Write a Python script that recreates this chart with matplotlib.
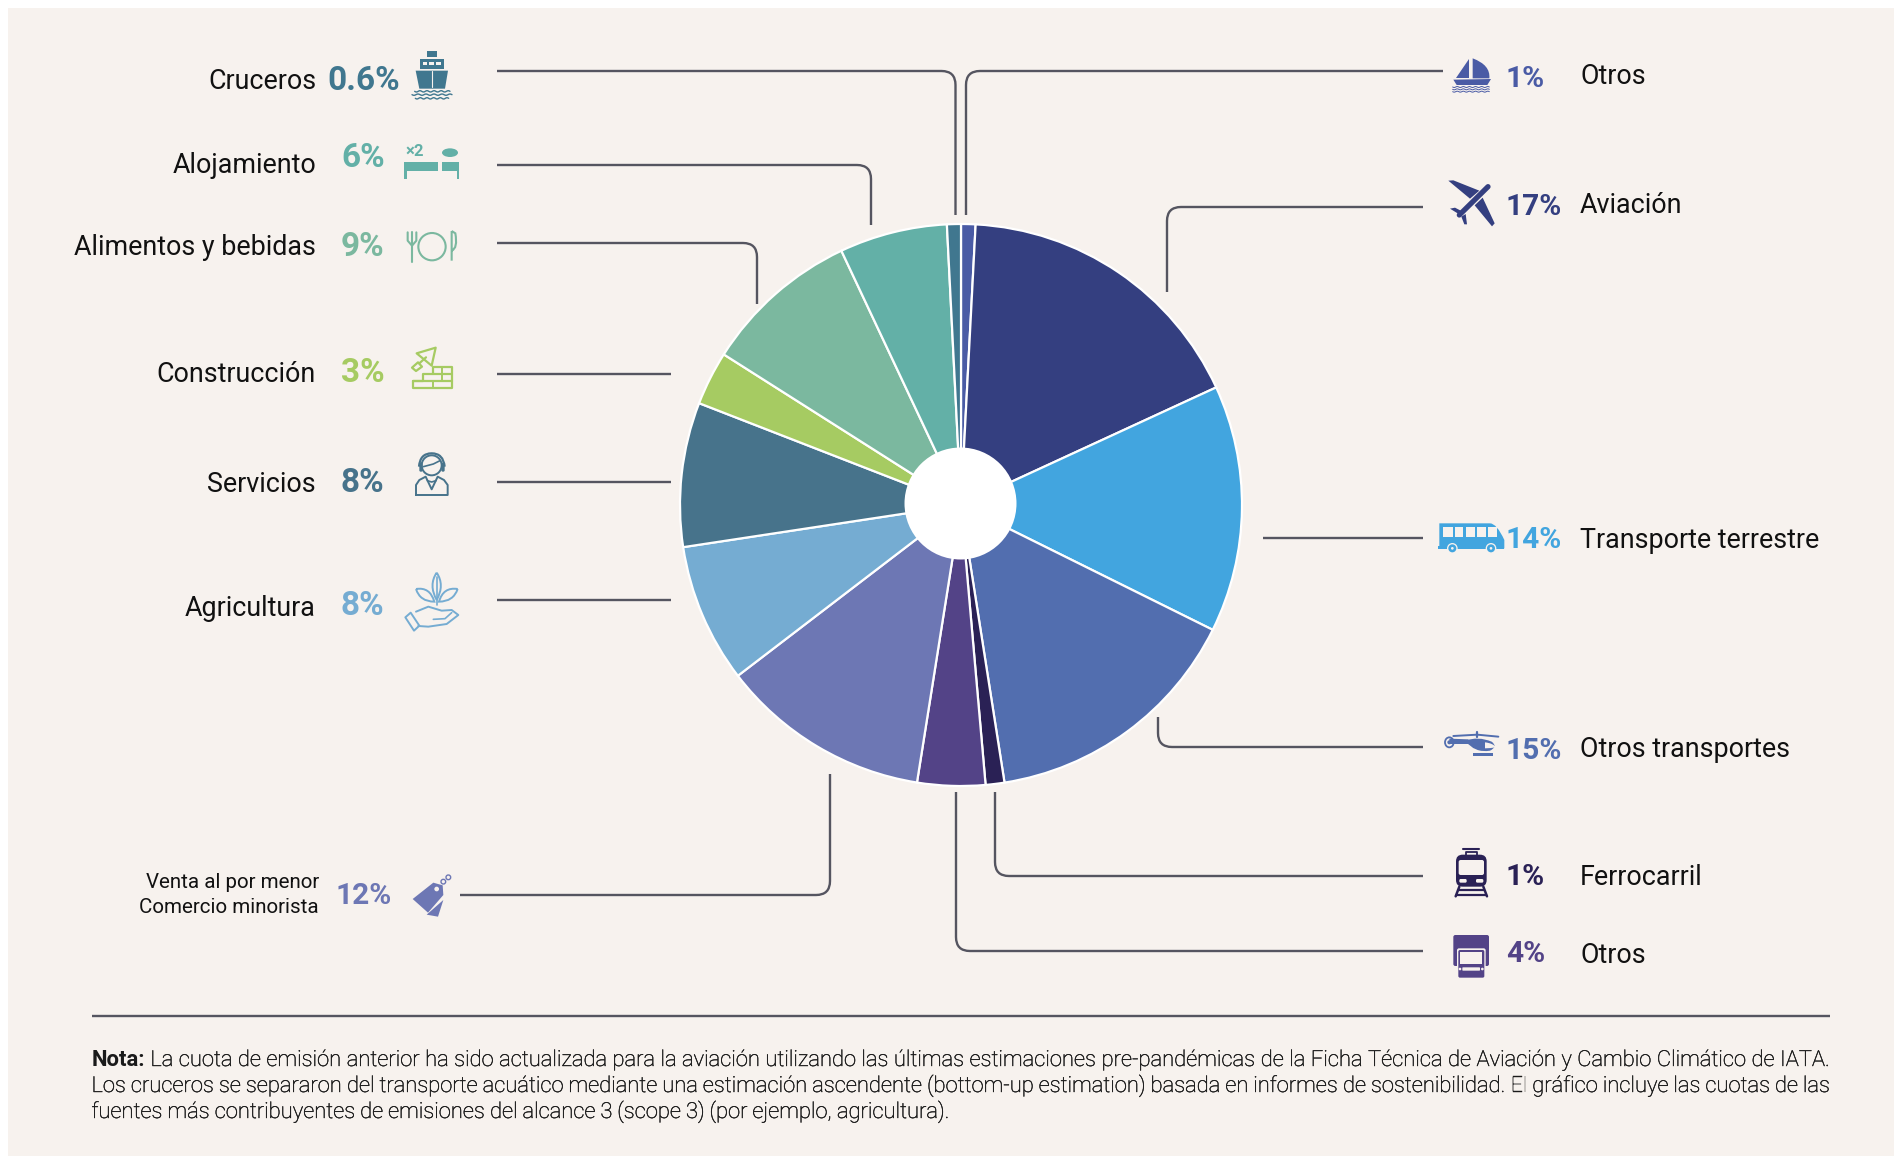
import numpy as np
import matplotlib
matplotlib.use("Agg")
import matplotlib.pyplot as plt
import matplotlib.patheffects as pe
from matplotlib.patches import Circle, Ellipse, Polygon, Rectangle, FancyBboxPatch, PathPatch
from matplotlib.path import Path

W, H = 1894, 1156
categories = ["Otros (marítimo)", "Aviación", "Transporte terrestre", "Otros transportes", "Ferrocarril",
              "Otros (carretera)", "Venta al por menor", "Agricultura", "Servicios", "Construcción",
              "Alimentos y bebidas", "Alojamiento", "Cruceros"]
shares = [0.83, 17.3, 14.2, 15.2, 1.08, 3.9, 12.1, 8.0, 8.3, 3.1, 9.0, 6.2, 0.8]
colors = ["#4A5BA5", "#343F80", "#42A5DF", "#526EAF", "#2A2155", "#534387", "#6D77B4",
          "#75ACD2", "#47738B", "#A6CB62", "#7BB89F", "#63B0A7", "#40778F"]
BG = "#F7F2EE"
LINE = "#555560"

plt.rcParams['font.family'] = ['Roboto', 'DejaVu Sans']
fig = plt.figure(figsize=(W/100, H/100), dpi=100, facecolor="white")
ax = fig.add_axes([0, 0, 1, 1])
ax.set_xlim(0, W); ax.set_ylim(H, 0); ax.axis("off")
ax.add_patch(Rectangle((8, 8), W-8, H-8, fc=BG, ec="none", zorder=0))

# Pie
cx, cy, R, r0 = 961, 505, 281, 56
pax = fig.add_axes([(cx-R)/W, 1-(cy+R)/H, 2*R/W, 2*R/H])
pax.pie(shares, colors=colors, startangle=90, counterclock=False, radius=1,
        wedgeprops=dict(edgecolor="white", linewidth=1.6))
pax.set_xlim(-1, 1); pax.set_ylim(-1, 1); pax.set_aspect("equal"); pax.axis("off")
pax.patch.set_alpha(0)
pax.add_patch(Circle((-0.5/R, 1.5/R), r0/R, fc="white", ec="none", zorder=10))

# Leader lines
def leader(pts, rad=14):
    pts = [np.array(p, float) for p in pts]
    verts = [pts[0]]; codes = [Path.MOVETO]
    for i in range(1, len(pts)-1):
        a, b, c = pts[i-1], pts[i], pts[i+1]
        u = (a-b)/np.linalg.norm(a-b); v = (c-b)/np.linalg.norm(c-b)
        verts += [b+u*rad, b, b+v*rad]; codes += [Path.LINETO, Path.CURVE3, Path.CURVE3]
    verts.append(pts[-1]); codes.append(Path.LINETO)
    ax.add_patch(PathPatch(Path(verts, codes), fc="none", ec=LINE, lw=1.7, zorder=1))

leaders = [
    [(497, 71), (955.5, 71), (955.5, 215)],
    [(1443, 71), (966, 71), (966, 215)],
    [(497, 165), (871, 165), (871, 225)],
    [(497, 243), (757, 243), (757, 304)],
    [(497, 374), (671, 374)],
    [(497, 482), (671, 482)],
    [(497, 600), (671, 600)],
    [(460, 895), (830, 895), (830, 774)],
    [(1423, 951), (956, 951), (956, 792)],
    [(1423, 876), (995, 876), (995, 792)],
    [(1423, 747), (1158, 747), (1158, 717)],
    [(1423, 538), (1263, 538)],
    [(1423, 207), (1167, 207), (1167, 292)],
]
for l in leaders:
    leader(l)

# Text
TXT = "#111111"
labels = [
    ("Cruceros", 316, 89, "right"), ("Alojamiento", 316, 173, "right"),
    ("Alimentos y bebidas", 316, 255, "right"), ("Construcción", 316, 382, "right"),
    ("Servicios", 316, 492, "right"), ("Agricultura", 316, 616, "right"),
    ("Otros", 1580, 84, "left"), ("Aviación", 1580, 213, "left"),
    ("Transporte terrestre", 1580, 548, "left"), ("Otros transportes", 1580, 757, "left"),
    ("Ferrocarril", 1580, 885, "left"), ("Otros", 1580, 963, "left"),
]
for t, x, y, ha in labels:
    ax.text(x, y, t, fontsize=19.4, color=TXT, ha=ha, va="baseline", zorder=5)
ax.text(319, 888, "Venta al por menor", fontsize=14.8, color=TXT, ha="right", va="baseline")
ax.text(319, 913, "Comercio minorista", fontsize=14.8, color=TXT, ha="right", va="baseline")

pct = [
    ("0.6%", 327, 90, "#40778F", 24), ("6%", 341, 167, "#63B0A7", 24), ("9%", 341, 256, "#7BB89F", 24),
    ("3%", 341, 382, "#A6CB62", 24), ("8%", 341, 492, "#47738B", 24), ("8%", 341, 615, "#75ACD2", 24),
    ("12%", 335, 904, "#6D77B4", 21.5), ("1%", 1506, 87, "#4A5BA5", 21.5), ("17%", 1506, 215, "#343F80", 21.5),
    ("14%", 1506, 548, "#42A5DF", 21.5), ("15%", 1506, 759, "#526EAF", 21.5), ("1%", 1506, 885, "#2A2155", 21.5),
    ("4%", 1506, 962, "#534387", 21.5),
]
for t, x, y, c, fs in pct:
    ax.text(x, y, t, fontsize=fs, color=c, fontweight="bold", ha="left", va="baseline", zorder=5)

# Rule and note
ax.plot([92, 1830], [1016, 1016], color=LINE, lw=1.7, solid_capstyle="butt")
note = [
    "Nota: La cuota de emisión anterior ha sido actualizada para la aviación utilizando las últimas estimaciones pre-pandémicas de la Ficha Técnica de Aviación y Cambio Climático de IATA.",
    "Los cruceros se separaron del transporte acuático mediante una estimación ascendente (bottom-up estimation) basada en informes de sostenibilidad. El gráfico incluye las cuotas de las",
    "fuentes más contribuyentes de emisiones del alcance 3 (scope 3) (por ejemplo, agricultura).",
]
fig.canvas.draw()
rend = fig.canvas.get_renderer()
stroke = [pe.withStroke(linewidth=0.3, foreground="#1a1a1a")]
def justified(line, y, x0=91.5, x1=1830, justify=True, fs=15.8):
    words = line.split(" ")
    arts = []
    for i, w in enumerate(words):
        bold = i == 0 and w == "Nota:"
        a = ax.text(0, y, w, fontsize=fs, color="#1a1a1a", va="baseline", ha="left",
                    fontweight="bold" if bold else "light")
        if not bold:
            a.set_path_effects(stroke)
        arts.append(a)
    ws = [a.get_window_extent(rend).width for a in arts]
    sp = (x1-x0-sum(ws))/(len(words)-1) if justify else fs*100/72*0.22
    x = x0
    for a, w in zip(arts, ws):
        a.set_x(x); x += w+sp
justified(note[0], 1066)
justified(note[1], 1092)
justified(note[2], 1118, justify=False)

# Icon helpers: coordinates are in zoomed-crop pixels
def mp(pts, o):
    return [(o[0]+x/3, o[1]+y/3) for x, y in pts]
def poly(pts, o, c, fill=True, lw=1.4, z=6, closed=True):
    ax.add_patch(Polygon(mp(pts, o), closed=closed, fc=c if fill else "none", ec=c if not fill else "none", lw=lw, zorder=z, joinstyle="round"))
def rect(x0, y0, x1, y1, o, c, fill=True, lw=1.4, z=6):
    poly([(x0, y0), (x1, y0), (x1, y1), (x0, y1)], o, c, fill, lw, z)
def line(pts, o, c, lw=1.4, z=6):
    m = np.array(mp(pts, o))
    ax.plot(m[:, 0], m[:, 1], color=c, lw=lw, zorder=z, solid_capstyle="round")
def circ(x, y, r, o, c, fill=True, lw=1.4, z=6):
    p = mp([(x, y)], o)[0]
    ax.add_patch(Circle(p, r/3, fc=c if fill else "none", ec=c if not fill else "none", lw=lw, zorder=z))
def ell(x, y, w, h, o, c, fill=True, lw=1.4, z=6, ang=0):
    p = mp([(x, y)], o)[0]
    ax.add_patch(Ellipse(p, w/3, h/3, angle=ang, fc=c if fill else "none", ec=c if not fill else "none", lw=lw, zorder=z))
def rrect(x0, y0, x1, y1, rad, o, c, fill=True, lw=1.4, z=6):
    p = mp([(x0, y0), (x1, y1)], o)
    ax.add_patch(FancyBboxPatch(p[0], p[1][0]-p[0][0], p[1][1]-p[0][1], boxstyle=f"round,pad=0,rounding_size={rad/3}",
                                fc=c if fill else "none", ec=c if not fill else "none", lw=lw, zorder=z))
def wave(x0, x1, y, o, c, amp=3, n=5, lw=1.0):
    xs = np.linspace(x0, x1, n*8+1)
    ys = y+amp*np.sin((xs-x0)/(x1-x0)*n*2*np.pi)
    line(list(zip(xs, ys)), o, c, lw)
def curve(pts, codes, o, c, fill=False, lw=1.4, z=6):
    ax.add_patch(PathPatch(Path(mp(pts, o), codes), fc=c if fill else "none", ec="none" if fill else c, lw=lw, zorder=z))
M, L3, C3 = Path.MOVETO, Path.LINETO, Path.CURVE3

# Ship
o = (0, 0); c = "#40778F"
rect(1281, 153, 1311, 170, o, c)
rect(1260, 178, 1332, 208, o, c)
for x in (1268, 1288, 1308):
    rect(x, 186, x+14, 196, o, BG, z=7)
poly([(1247, 212), (1344, 212), (1335, 266), (1258, 266)], o, c)
line([(1296, 212), (1296, 262)], o, BG, 0.8, 7)
wave(1244, 1350, 274, o, c, 2); wave(1236, 1356, 284, o, c, 2); wave(1246, 1346, 295, o, c, 2)

# Bed
c = "#63B0A7"
ax.text(414.5, 151, "×2", fontsize=12, fontweight="bold", color=c, ha="center", va="center", zorder=6)
ell(1350, 458, 48, 26, o, c)
rect(1213, 485, 1315, 512, o, c); rect(1213, 512, 1221, 537, o, c)
rect(1325, 485, 1378, 512, o, c); rect(1370, 512, 1378, 537, o, c)

# Plate
c = "#7BB89F"
circ(1296, 740, 41, o, c, False, 1.5)
line([(1236, 735), (1236, 785)], o, c, 1.5)
line([(1223, 697), (1223, 722), (1236, 737), (1249, 722), (1249, 697)], o, c, 1.5)
line([(1236, 697), (1236, 735)], o, c, 1.5)
curve([(1355, 693), (1355, 782), (1355, 752), (1374, 745), (1366, 700), (1355, 693)],
      [M, L3, M, C3, C3, L3], o, c, False, 1.5)

# Trowel and bricks
c = "#A6CB62"
poly([(1307, 1043), (1250, 1060), (1295, 1097)], o, c, False, 1.6)
poly([(1236, 1103), (1254, 1087), (1266, 1100), (1248, 1113)], o, c, False, 1.6)
line([(1258, 1090), (1278, 1072)], o, c, 1.6)
line([(1300, 1122), (1300, 1100), (1356, 1100), (1356, 1165), (1240, 1165), (1240, 1143), (1268, 1143), (1268, 1122), (1356, 1122)], o, c, 1.6)
line([(1240, 1143), (1356, 1143)], o, c, 1.6)
line([(1326, 1100), (1326, 1122)], o, c, 1.4); line([(1298, 1143), (1298, 1165)], o, c, 1.4)
line([(1326, 1122), (1326, 1143)], o, c, 1.4)

# Agent
o = (100, 420); c = "#47738B"
circ(995, 136, 30, o, c, False, 1.4)
curve([(957, 140), (960, 100), (995, 100), (1030, 100), (1034, 140)], [M, C3, C3, C3, C3], o, c, False, 1.6)
rrect(958, 128, 968, 155, 4, o, c); rrect(1024, 128, 1034, 155, 4, o, c)
line([(970, 140), (1000, 132), (1020, 122)], o, c, 1.2)
line([(948, 225), (948, 195), (958, 180), (977, 170), (995, 208), (1013, 170), (1032, 180), (1043, 195), (1043, 225), (948, 225)], o, c, 1.4)
line([(982, 182), (995, 186), (1008, 182)], o, c, 1.2)

# Plant & hand
c = "#75ACD2"
curve([(1010, 458), (985, 495), (1010, 540), (1035, 495), (1010, 458)], [M, C3, C3, C3, C3], o, c, False, 1.4)
line([(1010, 470), (1010, 555)], o, c, 1.2)
curve([(948, 507), (990, 500), (1003, 545), (960, 545), (948, 507)], [M, C3, C3, C3, C3], o, c, False, 1.4)
curve([(1073, 507), (1030, 500), (1017, 545), (1060, 545), (1073, 507)], [M, C3, C3, C3, C3], o, c, False, 1.4)
line([(948, 575), (985, 560), (1025, 572), (1055, 570), (1075, 585), (1040, 612), (985, 620), (955, 618)], o, c, 1.4)
line([(1000, 598), (1035, 596), (1055, 578)], o, c, 1.2)
poly([(916, 592), (932, 578), (958, 617), (942, 632)], o, c, False, 1.4)

# Tag
c = "#6D77B4"
poly([(938, 1437), (1000, 1388), (1028, 1396), (1030, 1425), (984, 1478)], o, c)
circ(1010, 1407, 7, o, BG, z=7)
poly([(980, 1484), (1030, 1440), (1014, 1490)], o, c)
circ(1030, 1385, 7, o, c, False, 1.0); circ(1045, 1372, 7, o, c, False, 1.0)

# Sailboat
o = (1400, 30); c = "#4A5BA5"
poly([(208, 88), (208, 145), (167, 145)], o, c)
curve([(218, 85), (272, 105), (268, 145), (218, 145), (218, 85)], [M, C3, C3, L3, L3], o, c, True)
poly([(160, 149), (273, 147), (262, 165), (170, 165)], o, c)
wave(158, 268, 171, o, c, 1.5, 6, 0.7); wave(158, 268, 178, o, c, 1.5, 6, 0.7); wave(158, 268, 185, o, c, 1.5, 6, 0.7)

# Plane
c = "#343F80"
line([(264, 470), (178, 555)], o, c, 3.8)
poly([(145, 452), (160, 451), (238, 482), (210, 506)], o, c)
poly([(248, 503), (284, 580), (276, 589), (224, 526)], o, c)
poly([(150, 536), (165, 533), (190, 546), (176, 552)], o, c)
poly([(184, 560), (197, 552), (201, 583), (193, 583)], o, c)

o = (1400, 500)
# Bus
c = "#42A5DF"
curve([(118, 70), (270, 70), (290, 70), (313, 120), (313, 145), (118, 145), (118, 70)],
      [M, L3, C3, C3, L3, L3, L3], o, c, True)
rect(113, 137, 313, 147, o, c)
for x0, x1 in ((130, 158), (164, 190), (197, 224), (231, 258), (265, 290)):
    rect(x0, 80, x1, 110, o, BG, z=7)
for x in (157, 273):
    circ(x, 145, 16, o, BG, z=7); circ(x, 145, 12, o, c, z=8); circ(x, 145, 4, o, BG, z=9)

# Helicopter
c = "#526EAF"
line([(160, 708), (232, 704), (295, 710)], o, c, 1.4)
line([(232, 696), (232, 712)], o, c, 1.6)
poly([(148, 716), (205, 718), (205, 732), (148, 732)], o, c)
ell(148, 727, 26, 30, o, c, False, 1.3); circ(148, 727, 6, o, c)
curve([(195, 722), (235, 708), (275, 725), (295, 740), (270, 752), (225, 760), (195, 722)],
      [M, C3, C3, C3, C3, C3, C3], o, c, True)
curve([(255, 727), (280, 730), (288, 742), (270, 745), (255, 745), (255, 727)], [M, C3, C3, C3, L3, L3], o, BG, True, z=7)
rect(218, 759, 280, 768, o, c)

# Train
c = "#2A2155"
line([(190, 1048), (238, 1048)], o, c, 1.5)
rect(197, 1056, 230, 1074, o, c, False, 1.3)
rrect(168, 1064, 260, 1160, 20, o, c)
rrect(176, 1080, 252, 1125, 6, o, BG, z=7)
rrect(178, 1137, 200, 1148, 4, o, BG, z=7); rrect(228, 1137, 250, 1148, 4, o, BG, z=7)
line([(178, 1160), (167, 1189)], o, c, 1.8); line([(250, 1160), (261, 1189)], o, c, 1.8)
line([(170, 1185), (258, 1185)], o, c, 1.6); line([(175, 1170), (253, 1170)], o, c, 1.6)

# Truck
c = "#534387"
rrect(160, 1305, 267, 1398, 6, o, c)
rrect(171, 1345, 257, 1433, 6, o, BG, z=7)
rrect(175, 1350, 253, 1433, 5, o, c, z=8)
rect(181, 1356, 247, 1392, o, BG, z=9)
rrect(187, 1402, 240, 1412, 2, o, BG, z=9)
circ(180, 1407, 4, o, BG, z=9); circ(247, 1407, 4, o, BG, z=9)

fig.savefig("out.png", dpi=100, facecolor="white")
